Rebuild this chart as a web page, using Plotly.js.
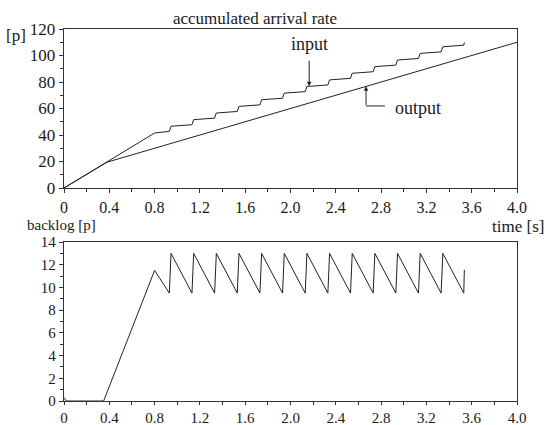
<!DOCTYPE html>
<html>
<head>
<meta charset="utf-8">
<script src="https://cdn.plot.ly/plotly-3.0.1.min.js"></script>
<style>html,body{margin:0;padding:0;background:#fff;}#chart{width:547px;height:425px;}</style>
</head>
<body>
<div id="chart"></div>
<script>
// ---- data ----
const inputTime = [0, 0.8, 0.93, 0.945, 1.13, 1.145, 1.33, 1.345, 1.53, 1.545, 1.73, 1.745, 1.93, 1.945, 2.13, 2.145, 2.33, 2.345, 2.53, 2.545, 2.73, 2.745, 2.93, 2.945, 3.13, 3.145, 3.33, 3.345, 3.53, 3.535];
const inputValues = [0, 41.5, 42.75, 46.6, 47.75, 51.6, 52.75, 56.6, 57.75, 61.6, 62.75, 66.6, 67.75, 71.6, 72.75, 76.6, 77.75, 81.6, 82.75, 86.6, 87.75, 91.6, 92.75, 96.6, 97.75, 101.6, 102.75, 106.6, 107.75, 109.9];
const outputTime = [0, 0.38, 4.0];
const outputValues = [0, 19.5, 110];
const backlogTime = [0, 0.02, 0.35, 0.8, 0.93, 0.945, 1.13, 1.145, 1.33, 1.345, 1.53, 1.545, 1.73, 1.745, 1.93, 1.945, 2.13, 2.145, 2.33, 2.345, 2.53, 2.545, 2.73, 2.745, 2.93, 2.945, 3.13, 3.145, 3.33, 3.345, 3.53, 3.535];
const backlogValues = [0.3, 0, 0, 11.5, 9.5, 13, 9.5, 13, 9.5, 13, 9.5, 13, 9.5, 13, 9.5, 13, 9.5, 13, 9.5, 13, 9.5, 13, 9.5, 13, 9.5, 13, 9.5, 13, 9.5, 13, 9.5, 11.55];

const xTickVals = [0, 0.4, 0.8, 1.2, 1.6, 2.0, 2.4, 2.8, 3.2, 3.6, 4.0];
const xTickText = ['0', '0.4', '0.8', '1.2', '1.6', '2.0', '2.4', '2.8', '3.2', '3.6', '4.0'];
const yTopTickVals = [0, 20, 40, 60, 80, 100, 120];
const yBottomTickVals = [0, 2, 4, 6, 8, 10, 12, 14];

// ---- styling ----
const FONT = 'Liberation Serif, Times New Roman, serif';
const TXT = '#1a1a1a';
const AX = '#333';
const lineStyle = {color: '#222', width: 1};

const traces = [
  {x: inputTime, y: inputValues, type: 'scatter', mode: 'lines', line: lineStyle, xaxis: 'x', yaxis: 'y', name: 'input', cliponaxis: false},
  {x: outputTime, y: outputValues, type: 'scatter', mode: 'lines', line: lineStyle, xaxis: 'x', yaxis: 'y', name: 'output', cliponaxis: false},
  {x: backlogTime, y: backlogValues, type: 'scatter', mode: 'lines', line: lineStyle, xaxis: 'x2', yaxis: 'y2', name: 'backlog', cliponaxis: false}
];

function xAxis(anchor, ticklen, fontSize) {
  return {
    anchor: anchor, domain: [0, 1], range: [0, 4],
    tickmode: 'array', tickvals: xTickVals, ticktext: xTickText,
    ticks: 'outside', ticklen: ticklen, tickwidth: 1, tickcolor: AX,
    minor: {tickmode: 'linear', tick0: 0, dtick: 0.2, ticks: 'outside', ticklen: 3, tickwidth: 1, tickcolor: AX, showgrid: false},
    showline: true, linecolor: AX, linewidth: 1.3, mirror: true,
    showgrid: false, zeroline: false,
    tickfont: {family: FONT, size: fontSize, color: TXT}
  };
}
function yAxis(anchor, domain, range, vals, minorStep, fontSize) {
  return {
    anchor: anchor, domain: domain, range: range,
    tickmode: 'array', tickvals: vals, ticktext: vals.map(String),
    ticks: 'outside', ticklen: 4, tickwidth: 1, tickcolor: AX,
    minor: {tickmode: 'linear', tick0: 0, dtick: minorStep, ticks: 'outside', ticklen: 3, tickwidth: 1, tickcolor: AX, showgrid: false},
    showline: true, linecolor: AX, linewidth: 1.3, mirror: true,
    showgrid: false, zeroline: false,
    tickfont: {family: FONT, size: fontSize, color: TXT}
  };
}

// plot area: top 29px, bottom 401px (372px tall)
const layout = {
  width: 547, height: 425,
  margin: {l: 64, r: 30, t: 29, b: 24},
  paper_bgcolor: '#fff', plot_bgcolor: '#fff',
  showlegend: false,
  font: {family: FONT, size: 17, color: TXT},
  title: {text: 'accumulated arrival rate', font: {family: FONT, size: 17, color: TXT},
          xref: 'container', yref: 'container', x: 255 / 547, y: 1 - 18 / 425, xanchor: 'center', yanchor: 'middle'},
  xaxis: xAxis('y', 4, 16),
  yaxis: yAxis('x', [(401 - 188) / 372, 1], [0, 120], yTopTickVals, 10, 17),
  xaxis2: xAxis('y2', 3, 15),
  yaxis2: yAxis('x2', [0, (401 - 242) / 372], [0, 14], yBottomTickVals, 1, 15),
  shapes: [
    {type: 'line', xref: 'x', yref: 'y', x0: 2.667, x1: 2.834, y0: 61.9, y1: 61.9, line: {color: '#222', width: 1}}
  ],
  annotations: [
    {xref: 'x', yref: 'y', x: 2.165, y: 76.8, text: '', showarrow: true, ax: 0, ay: -27, arrowhead: 2, arrowsize: 0.9, arrowwidth: 1, arrowcolor: '#222', standoff: 0},
    {xref: 'x', yref: 'y', x: 2.172, y: 108.7, text: 'input', showarrow: false, xanchor: 'center', yanchor: 'middle', font: {family: FONT, size: 18, color: TXT}},
    {xref: 'x', yref: 'y', x: 2.667, y: 76.7, text: '', showarrow: true, ax: 0, ay: 20, arrowhead: 2, arrowsize: 0.9, arrowwidth: 1, arrowcolor: '#222', standoff: 0},
    {xref: 'x', yref: 'y', x: 2.905, y: 60.4, text: 'output', showarrow: false, xanchor: 'left', yanchor: 'middle', font: {family: FONT, size: 18, color: TXT}},
    {xref: 'paper', yref: 'paper', x: (546 - 64) / 453, y: (401 - 226) / 372, text: 'time [s]', showarrow: false, xanchor: 'right', yanchor: 'middle', font: {family: FONT, size: 17, color: TXT}},
    {xref: 'paper', yref: 'paper', x: (61 - 64) / 453, y: (401 - 225) / 372, text: 'backlog [p]', showarrow: false, xanchor: 'center', yanchor: 'middle', font: {family: FONT, size: 15, color: TXT}},
    {xref: 'paper', yref: 'paper', x: (16 - 64) / 453, y: (401 - 36) / 372, text: '[p]', showarrow: false, xanchor: 'center', yanchor: 'middle', font: {family: FONT, size: 17, color: TXT}}
  ]
};

Plotly.newPlot('chart', traces, layout, {displayModeBar: false, staticPlot: true});
</script>
</body>
</html>
